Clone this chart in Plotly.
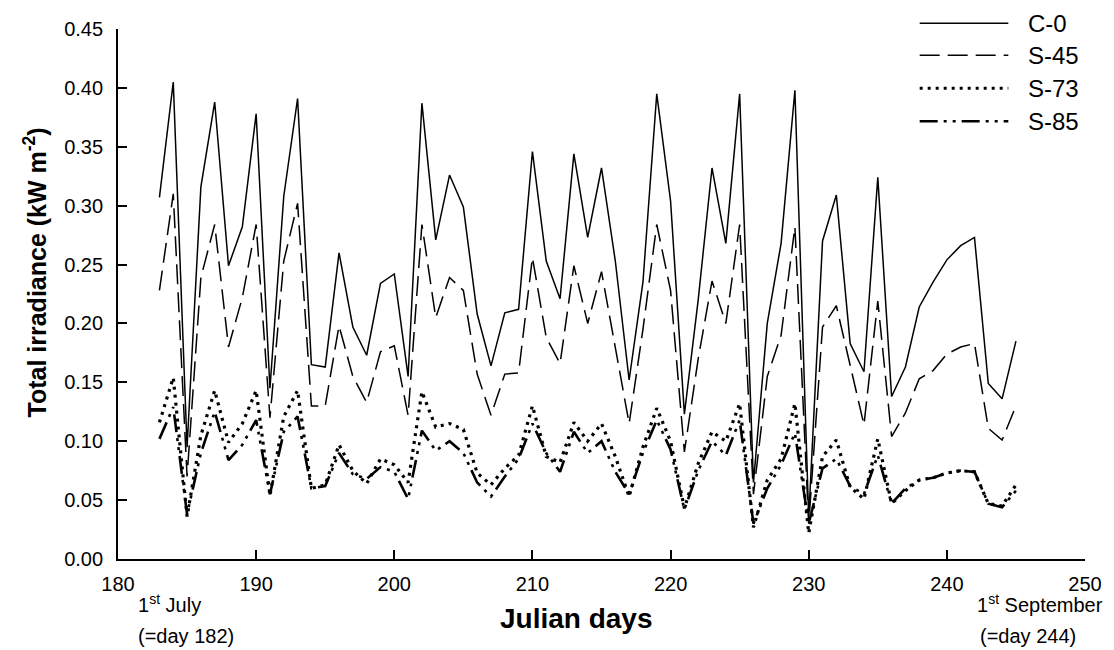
import plotly.graph_objects as go

days = [183, 184, 185, 186, 187, 188, 189, 190, 191, 192, 193, 194, 195, 196, 197, 198,
        199, 200, 201, 202, 203, 204, 205, 206, 207, 208, 209, 210, 211, 212, 213, 214,
        215, 216, 217, 218, 219, 220, 221, 222, 223, 224, 225, 226, 227, 228, 229, 230,
        231, 232, 233, 234, 235, 236, 237, 238, 239, 240, 241, 242, 243, 244, 245]

c0 = [0.307, 0.405, 0.095, 0.316, 0.388, 0.249, 0.282, 0.378, 0.145, 0.308, 0.391, 0.165,
      0.163, 0.260, 0.197, 0.173, 0.234, 0.242, 0.155, 0.387, 0.271, 0.326, 0.299, 0.208,
      0.164, 0.209, 0.212, 0.346, 0.253, 0.221, 0.344, 0.273, 0.332, 0.253, 0.152, 0.235,
      0.395, 0.304, 0.123, 0.220, 0.332, 0.268, 0.395, 0.065, 0.200, 0.268, 0.398, 0.035,
      0.270, 0.309, 0.183, 0.159, 0.324, 0.138, 0.163, 0.214, 0.235, 0.254, 0.266, 0.273,
      0.149, 0.136, 0.185]

s45 = [0.228, 0.310, 0.070, 0.239, 0.284, 0.180, 0.222, 0.284, 0.120, 0.253, 0.302, 0.130,
       0.130, 0.198, 0.155, 0.133, 0.176, 0.181, 0.122, 0.284, 0.205, 0.239, 0.228, 0.157,
       0.122, 0.157, 0.158, 0.256, 0.188, 0.166, 0.249, 0.200, 0.244, 0.180, 0.115, 0.195,
       0.284, 0.228, 0.091, 0.170, 0.236, 0.200, 0.284, 0.055, 0.155, 0.190, 0.282, 0.030,
       0.197, 0.215, 0.165, 0.114, 0.219, 0.104, 0.124, 0.153, 0.160, 0.174, 0.180, 0.183,
       0.111, 0.101, 0.130]

s73 = [0.116, 0.154, 0.036, 0.105, 0.143, 0.099, 0.115, 0.143, 0.054, 0.121, 0.143, 0.060,
       0.063, 0.097, 0.075, 0.064, 0.085, 0.080, 0.065, 0.142, 0.112, 0.115, 0.110, 0.073,
       0.063, 0.077, 0.088, 0.130, 0.087, 0.082, 0.116, 0.100, 0.115, 0.087, 0.053, 0.095,
       0.128, 0.100, 0.043, 0.081, 0.108, 0.100, 0.132, 0.027, 0.067, 0.085, 0.132, 0.022,
       0.087, 0.101, 0.061, 0.051, 0.102, 0.047, 0.058, 0.067, 0.069, 0.073, 0.075, 0.074,
       0.047, 0.045, 0.063]

s85 = [0.102, 0.129, 0.038, 0.090, 0.125, 0.084, 0.097, 0.118, 0.055, 0.108, 0.121, 0.060,
       0.062, 0.090, 0.072, 0.068, 0.078, 0.074, 0.051, 0.109, 0.092, 0.100, 0.090, 0.065,
       0.053, 0.070, 0.085, 0.115, 0.090, 0.074, 0.108, 0.090, 0.100, 0.074, 0.055, 0.090,
       0.118, 0.093, 0.042, 0.075, 0.100, 0.088, 0.118, 0.030, 0.060, 0.080, 0.107, 0.030,
       0.077, 0.085, 0.062, 0.055, 0.088, 0.047, 0.060, 0.067, 0.069, 0.073, 0.075, 0.074,
       0.047, 0.044, 0.058]

series_names = ["C-0", "S-45", "S-73", "S-85"]
y_ticks = [0.00, 0.05, 0.10, 0.15, 0.20, 0.25, 0.30, 0.35, 0.40, 0.45]
x_ticks = [180, 190, 200, 210, 220, 230, 240, 250]

FONT = "Liberation Sans, Arial, sans-serif"
styles = [
    dict(color="black", width=1.5, dash="solid"),
    dict(color="black", width=1.5, dash="20px,8px"),
    dict(color="black", width=3.2, dash="3px,5px"),
    dict(color="black", width=2.6, dash="18px,6px,3px,6px,3px,6px"),
]

fig = go.Figure()
for name, ys, st in zip(series_names, [c0, s45, s73, s85], styles):
    fig.add_trace(go.Scatter(x=days, y=ys, mode="lines", name=name, line=st,
                             showlegend=False))

# pixel -> paper helpers for the plot area
left, plot_w = 118, 971
bottom, plot_h = 559, 530.3


def px(xp):
    return (xp - left) / plot_w


def py(yp):
    return (bottom - yp) / plot_h


# custom legend (long line samples, as in the reference)
legend_y_px = [23, 55, 88, 121]
shapes = []
annotations = []
for name, st, ypx in zip(series_names, styles, legend_y_px):
    shapes.append(dict(type="line", xref="paper", yref="paper",
                       x0=px(923), x1=px(1012), y0=py(ypx), y1=py(ypx), line=st))
    annotations.append(dict(text=name, xref="paper", yref="paper",
                            x=px(1030), y=py(ypx), xanchor="left",
                            yanchor="middle", showarrow=False,
                            font=dict(family=FONT, size=24, color="black")))

note_font = dict(family=FONT, size=20, color="black")
annotations += [
    dict(text="<b>Julian days</b>", xref="paper", yref="paper",
         x=px(578), y=py(619), showarrow=False, xanchor="center", yanchor="middle",
         font=dict(family=FONT, size=28, color="black")),
    dict(text="<b>Total irradiance (kW m<sup>-2</sup>)</b>", xref="paper", yref="paper",
         x=px(35), y=py(272), showarrow=False, textangle=-90,
         xanchor="center", yanchor="middle",
         font=dict(family=FONT, size=25, color="black")),
    dict(text="1<sup>st</sup> July", xref="paper", yref="paper",
         x=px(136), y=py(604), showarrow=False, xanchor="left", yanchor="middle",
         font=note_font),
    dict(text="(=day 182)", xref="paper", yref="paper",
         x=px(136), y=py(636), showarrow=False, xanchor="left", yanchor="middle",
         font=note_font),
    dict(text="1<sup>st</sup> September", xref="paper", yref="paper",
         x=px(979), y=py(604), showarrow=False, xanchor="left", yanchor="middle",
         font=note_font),
    dict(text="(=day 244)", xref="paper", yref="paper",
         x=px(982), y=py(636), showarrow=False, xanchor="left", yanchor="middle",
         font=note_font),
]

fig.update_layout(
    width=1114, height=650,
    margin=dict(l=118, r=25, t=29, b=91),
    paper_bgcolor="white", plot_bgcolor="white",
    font=dict(family=FONT, size=20, color="black"),
    shapes=shapes, annotations=annotations,
    showlegend=False,
)
fig.update_xaxes(range=[180, 250], tickvals=x_ticks, ticks="inside", ticklen=9,
                 tickwidth=1.5, tickcolor="black", showline=True, linecolor="black",
                 linewidth=1.8, showgrid=False, zeroline=False, ticklabelstandoff=6,
                 tickfont=dict(family=FONT, size=20, color="black"))
fig.update_yaxes(range=[0, 0.45], tickvals=y_ticks, tickformat=".2f", ticks="inside",
                 ticklen=9, tickwidth=1.5, tickcolor="black", showline=True,
                 linecolor="black", linewidth=1.8, showgrid=False, zeroline=False,
                 ticklabelstandoff=9, tickfont=dict(family=FONT, size=20, color="black"))

fig.write_html("out.html")
